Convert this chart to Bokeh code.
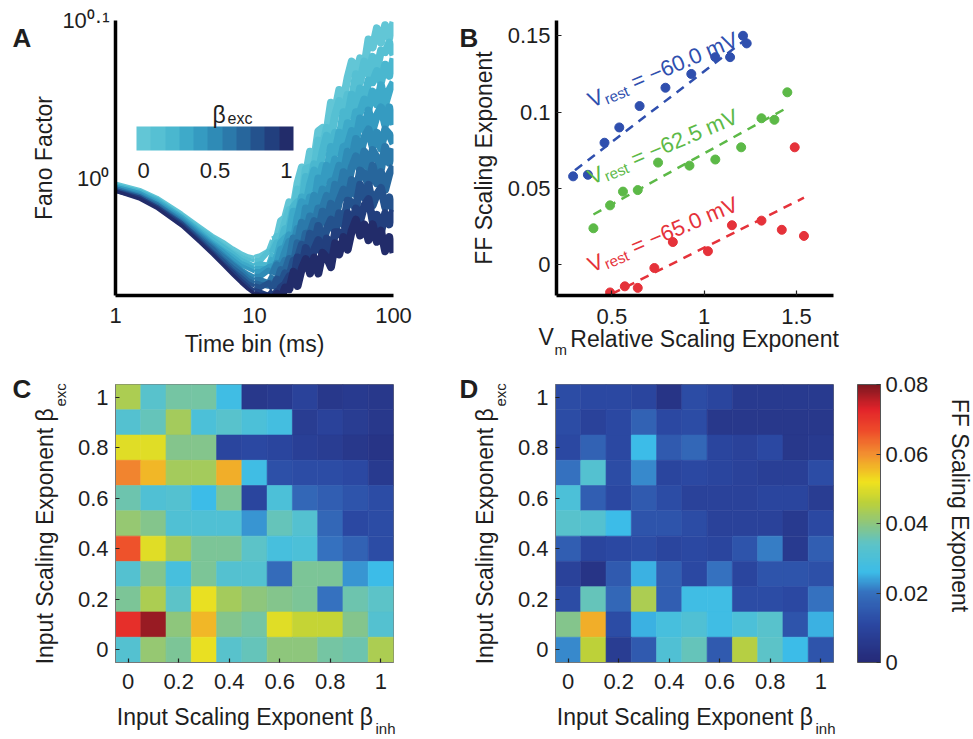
import math
from bokeh.plotting import figure
from bokeh.models import (ColumnDataSource, FixedTicker, LinearColorMapper, ColorBar,
                          Label, Range1d)
from bokeh.layouts import row, column
from bokeh.embed import file_html
from bokeh.resources import INLINE
from bokeh.transform import linear_cmap

FONT = "Liberation Sans"
INK = "#1e1e1e"
NB = "\u00a0"

# ---------------- Panel A data: Fano factor vs time bin ----------------
fano_x = [1, 1.5, 2, 3, 4, 5, 6, 7, 8, 9, 10, 11,
          12.6, 13.5, 14.5, 15.5, 16.6, 17.8, 19.1, 20.4, 21.9, 23.4, 25.1, 26.9, 28.8,
          30.9, 33.1, 35.5, 38.0, 40.7, 43.7, 46.8, 50.1, 53.7, 57.5, 61.7, 66.1, 70.8,
          75.9, 81.3, 87.1, 93.3, 100]
fano_beta = [0.0, 0.1, 0.2, 0.3, 0.4, 0.5, 0.6, 0.7, 0.8, 0.9, 1.0]
# log10(Fano factor), in thousandths, one list per beta_exc
fano_b00 = [-3, -7, -12, -22, -30, -36, -40, -44, -47, -49, -50, -49,
            -46, -39, -38, -27, -25, -15, -18, -3, 7, 2, 17, 12, 30, 32, 30, 48, 43, 56, 50, 64,
            74, 66, 76, 71, 88, 83, 95, 86, 97, 89, 99]
fano_b01 = [-4, -8, -13, -23, -31, -37, -42, -46, -49, -51, -52, -52,
            -46, -46, -37, -37, -28, -20, -22, -7, -12, 6, 7, 6, 24, 20, 32, 26, 40, 49, 42, 53,
            49, 66, 61, 74, 66, 77, 69, 81, 80, 86, 78]
fano_b02 = [-4, -8, -13, -24, -32, -38, -43, -47, -51, -53, -55, -54,
            -55, -47, -41, -41, -32, -31, -18, -15, -17, 1, -4, 9, 3, 17, 27, 19, 29, 25, 42, 39,
            53, 44, 57, 50, 62, 61, 68, 61, 72, 65, 76]
fano_b03 = [-5, -9, -14, -24, -33, -40, -45, -49, -53, -55, -57, -57,
            -57, -50, -51, -41, -38, -36, -21, -25, -12, -18, -4, 5, -2, 8, 3, 20, 16, 29, 22, 35,
            29, 42, 42, 50, 44, 55, 47, 59, 47, 56, 61]
fano_b04 = [-5, -9, -15, -25, -34, -41, -46, -51, -55, -57, -59, -59,
            -56, -55, -55, -45, -44, -36, -40, -25, -15, -23, -12, -17, 0, -4, 8, 0, 12, 7, 20, 21,
            30, 24, 38, 31, 43, 31, 40, 45, 34, 45, 34]
fano_b05 = [-6, -10, -16, -26, -35, -42, -48, -53, -57, -60, -62, -62,
            -58, -60, -54, -55, -47, -40, -43, -32, -36, -19, -23, -11, -19, -7, -14, -2, -1, 8, 3, 17,
            12, 25, 15, 26, 31, 20, 29, 19, 31, 28, 22]
fano_b06 = [-6, -11, -16, -27, -36, -43, -49, -54, -58, -62, -64, -64,
            -66, -61, -55, -58, -52, -52, -38, -41, -28, -36, -24, -31, -19, -19, -11, -18, -4, -10, 4, -5,
            7, 14, 5, 17, 7, 18, 13, 6, 20, 10, 19]
fano_b07 = [-7, -11, -17, -28, -37, -44, -51, -56, -60, -64, -66, -67,
            -68, -65, -66, -58, -59, -51, -55, -41, -47, -35, -35, -27, -34, -21, -28, -16, -26, -14, -7, -14,
            -1, -10, 5, 3, -4, 8, -3, 4, -7, 3, 8]
fano_b08 = [-7, -12, -18, -28, -38, -46, -52, -58, -62, -66, -68, -69,
            -66, -70, -64, -67, -60, -62, -52, -51, -42, -48, -35, -42, -30, -41, -32, -26, -34, -22, -29, -14,
            -15, -19, -4, -12, -4, -17, -10, -6, -18, -12, -21]
fano_b09 = [-8, -12, -18, -29, -39, -47, -54, -59, -64, -68, -71, -72,
            -74, -71, -74, -69, -67, -62, -65, -50, -56, -44, -54, -45, -39, -49, -38, -48, -34, -34, -38, -22,
            -29, -19, -27, -17, -13, -27, -23, -34, -22, -29, -20]
fano_b10 = [-8, -13, -19, -30, -40, -48, -55, -61, -66, -70, -73, -74,
            -74, -76, -73, -76, -69, -70, -59, -68, -57, -51, -60, -50, -60, -47, -50, -56, -41, -48, -37, -45,
            -33, -26, -36, -29, -39, -29, -40, -33, -46, -37, -47]
fano_curves = [fano_b00, fano_b01, fano_b02, fano_b03, fano_b04, fano_b05,
               fano_b06, fano_b07, fano_b08, fano_b09, fano_b10]
fano_colors = ["#62c6d6", "#56c0d3", "#4ab7cf", "#3eaac9", "#359bc1", "#2f8bb6",
               "#2b79aa", "#27669c", "#24528d", "#223f7e", "#222c6a"]
# line segments (index ranges) drawn progressively thicker as the curves get spikier
FANO_SEGMENTS = [(0, 11, 3.5), (10, 14, 5.5), (13, 43, 8)]

# ---------------- Panel B data ----------------
blue_x = [0.29, 0.37, 0.46, 0.54, 0.65, 0.79, 0.93, 1.06, 1.14, 1.21, 1.23]
blue_y = [0.058, 0.059, 0.080, 0.090, 0.104, 0.116, 0.125, 0.136, 0.136, 0.150, 0.145]
green_x = [0.40, 0.49, 0.56, 0.64, 0.75, 0.92, 1.06, 1.20, 1.31, 1.38, 1.45]
green_y = [0.024, 0.039, 0.048, 0.049, 0.067, 0.065, 0.069, 0.077, 0.096, 0.095, 0.113]
red_x = [0.49, 0.57, 0.64, 0.73, 0.83, 1.02, 1.15, 1.31, 1.42, 1.49, 1.54]
red_y = [-0.018, -0.014, -0.015, -0.002, 0.015, 0.009, 0.026, 0.029, 0.023, 0.077, 0.019]
blue_fit_x, blue_fit_y = [0.30, 1.24], [0.062, 0.149]
green_fit_x, green_fit_y = [0.40, 1.45], [0.033, 0.103]
red_fit_x, red_fit_y = [0.50, 1.54], [-0.019, 0.044]
vrest_text = ["= \u221260.0 mV", "= \u221262.5 mV", "= \u221265.0 mV"]
vrest_anchor_x = 0.375
vrest_anchor_y = [0.1072, 0.0568, -0.0006]
B_COLORS = ["#2f4fae", "#5cb947", "#e5323a"]

# ---------------- Panels C, D data (FF scaling exponent) ----------------
beta_vals = [0.0, 0.1, 0.2, 0.3, 0.4, 0.5, 0.6, 0.7, 0.8, 0.9, 1.0]
# rows listed from beta_exc = 1 (top) down to beta_exc = 0; columns beta_inh = 0..1
ffC_rows = [
    [0.044, 0.033, 0.037, 0.037, 0.027, 0.005, 0.006, 0.009, 0.005, 0.006, 0.005],
    [0.032, 0.035, 0.043, 0.030, 0.033, 0.030, 0.028, 0.007, 0.009, 0.007, 0.005],
    [0.050, 0.050, 0.039, 0.039, 0.010, 0.011, 0.010, 0.008, 0.007, 0.005, 0.004],
    [0.061, 0.056, 0.043, 0.043, 0.057, 0.027, 0.013, 0.012, 0.012, 0.011, 0.006],
    [0.036, 0.031, 0.032, 0.026, 0.038, 0.010, 0.030, 0.018, 0.016, 0.014, 0.012],
    [0.041, 0.039, 0.031, 0.031, 0.031, 0.023, 0.035, 0.032, 0.018, 0.011, 0.012],
    [0.066, 0.050, 0.043, 0.038, 0.038, 0.034, 0.029, 0.030, 0.020, 0.017, 0.012],
    [0.032, 0.039, 0.029, 0.038, 0.032, 0.032, 0.019, 0.038, 0.038, 0.023, 0.026],
    [0.038, 0.044, 0.034, 0.051, 0.043, 0.040, 0.039, 0.038, 0.020, 0.036, 0.034],
    [0.071, 0.078, 0.040, 0.056, 0.039, 0.037, 0.050, 0.047, 0.047, 0.039, 0.032],
    [0.032, 0.041, 0.038, 0.051, 0.033, 0.035, 0.040, 0.040, 0.037, 0.036, 0.044],
]
ffD_rows = [
    [0.012, 0.011, 0.011, 0.010, 0.004, 0.012, 0.010, 0.006, 0.006, 0.006, 0.006],
    [0.012, 0.009, 0.011, 0.017, 0.011, 0.012, 0.005, 0.005, 0.005, 0.005, 0.005],
    [0.011, 0.017, 0.011, 0.026, 0.015, 0.018, 0.010, 0.009, 0.011, 0.005, 0.006],
    [0.020, 0.032, 0.012, 0.022, 0.010, 0.011, 0.010, 0.009, 0.008, 0.008, 0.012],
    [0.030, 0.016, 0.011, 0.015, 0.012, 0.009, 0.009, 0.009, 0.010, 0.010, 0.007],
    [0.033, 0.032, 0.026, 0.014, 0.014, 0.012, 0.009, 0.009, 0.009, 0.006, 0.011],
    [0.016, 0.010, 0.011, 0.012, 0.010, 0.011, 0.010, 0.014, 0.021, 0.006, 0.016],
    [0.009, 0.004, 0.015, 0.025, 0.016, 0.011, 0.020, 0.010, 0.014, 0.014, 0.013],
    [0.012, 0.035, 0.018, 0.044, 0.016, 0.027, 0.027, 0.012, 0.012, 0.011, 0.020],
    [0.039, 0.057, 0.012, 0.025, 0.029, 0.031, 0.027, 0.030, 0.033, 0.014, 0.025],
    [0.022, 0.046, 0.007, 0.015, 0.031, 0.035, 0.015, 0.045, 0.034, 0.026, 0.014],
]
heat_ticks = [0.0, 0.2, 0.4, 0.6, 0.8, 1.0]
heat_tick_labels = ["0", "0.2", "0.4", "0.6", "0.8", "1"]
cbar_ticks = [0.0, 0.02, 0.04, 0.06, 0.08]
cbar_tick_labels = ["0", "0.02", "0.04", "0.06", "0.08"]

# jet-like colormap as printed in the figure
anchor_v = [0, 0.011, 0.020, 0.026, 0.034, 0.040, 0.046, 0.052, 0.060, 0.067, 0.073, 0.080]
anchor_c = ["#252a78", "#2b48a2", "#3570be", "#3cbce8", "#5cc3c8", "#8dc67e",
            "#bcd13a", "#f0e21e", "#f29030", "#ee4a2a", "#e2232a", "#7d1820"]


def _hex(c):
    return [int(c[i:i + 2], 16) for i in (1, 3, 5)]


heat_palette = []
for k in range(256):
    v = 0.08 * k / 255
    for j in range(len(anchor_v) - 1):
        if anchor_v[j] <= v <= anchor_v[j + 1] + 1e-12:
            t = (v - anchor_v[j]) / (anchor_v[j + 1] - anchor_v[j])
            a, b = _hex(anchor_c[j]), _hex(anchor_c[j + 1])
            heat_palette.append("#%02x%02x%02x" % tuple(round(a[i] + (b[i] - a[i]) * t) for i in range(3)))
            break


# ---------------- helpers ----------------
def base_fig(**kw):
    p = figure(output_backend="svg", toolbar_location=None, **kw)
    p.grid.visible = False
    p.background_fill_color = "white"
    p.border_fill_color = "white"
    return p


def style_axes(p, line_w, tick_in, standoff_x, standoff_y):
    for ax, so in ((p.xaxis[0], standoff_x), (p.yaxis[0], standoff_y)):
        ax.axis_line_width = line_w
        ax.axis_line_color = "black"
        ax.major_label_text_font = FONT
        ax.major_label_text_font_size = "22px"
        ax.major_label_text_color = INK
        ax.major_label_standoff = so
        ax.axis_label_text_font = FONT
        ax.axis_label_text_font_size = "23px"
        ax.axis_label_text_font_style = "normal"
        ax.axis_label_text_color = INK
        ax.minor_tick_line_color = None
        ax.major_tick_out = 0
        if tick_in:
            ax.major_tick_in = tick_in
            ax.major_tick_line_color = "#222"
            ax.major_tick_line_width = 1.2
        else:
            ax.major_tick_in = 0
            ax.major_tick_line_color = None


def put(p, side, frame, X, Y, text, size, color=INK, angle=0.0, align="left",
        baseline="alphabetic", bold=False):
    """Text whose baseline starts at page pixel (X, Y), anchored at the frame's lower-left data
    corner plus a pixel offset (side-panel labels are drawn about their middle line)."""
    fl, fb = frame
    if side != "center" and baseline == "alphabetic":
        k = 0.35 * size
        X = X - k * math.sin(angle)
        Y = Y - k * math.cos(angle)
    lab = Label(x=p.x_range.start, y=p.y_range.start, x_units="data", y_units="data",
                x_offset=X - fl, y_offset=fb - Y, text=text, angle=angle,
                text_font=FONT, text_font_size=f"{size}px", text_color=color,
                text_align=align, text_baseline=baseline,
                text_font_style="bold" if bold else "normal")
    p.add_layout(lab, side)


FA, FB, FC, FD = (115, 295), (556, 295), (115, 662), (555, 662)

# ---------------- Panel A ----------------
pA = base_fig(width=458, height=360, x_axis_type="log", y_axis_type="log",
              x_range=Range1d(1, 100), y_range=Range1d(10 ** -0.074, 10 ** 0.1),
              min_border_left=115, min_border_right=65, min_border_top=20, min_border_bottom=65)
pA.outline_line_color = None
for vals, col in zip(fano_curves, fano_colors):
    ff = [10 ** (v / 1000) for v in vals]
    for i0, i1, w in FANO_SEGMENTS:
        pA.line(fano_x[i0:i1], ff[i0:i1], line_width=w, color=col, line_join="round")
style_axes(pA, 3.5, 0, 12, 6)
pA.xaxis.ticker = FixedTicker(ticks=[1, 10, 100])
pA.xaxis.major_label_overrides = {1: "1", 10: "10", 100: "100"}
pA.yaxis.ticker = FixedTicker(ticks=[1, 10 ** 0.1])
pA.yaxis.major_label_overrides = {1: "10\u2070", 10 ** 0.1: "10\u2070\u00b7\u00b9"}
pA.xaxis.axis_label = "Time bin (ms)"
pA.yaxis.axis_label = "Fano Factor"
pA.xaxis.axis_label_standoff = 5
pA.yaxis.axis_label_standoff = 2

fano_mapper = LinearColorMapper(palette=fano_colors, low=-0.05, high=1.05)
cbA = ColorBar(color_mapper=fano_mapper, orientation="horizontal", location=(21, 115),
               width=157, height=24, padding=0, margin=0,
               ticker=FixedTicker(ticks=[0, 0.5, 1]),
               major_label_overrides={0: "0", 0.5: "0.5", 1: "1"},
               major_label_text_font=FONT, major_label_text_font_size="22px",
               major_label_text_color=INK, major_tick_line_color=None, bar_line_color=None,
               background_fill_alpha=0, border_line_color=None, label_standoff=12)
pA.add_layout(cbA)
put(pA, "center", FA, 212, 114, "\u03b2", 23)
put(pA, "center", FA, 227, 118, "exc", 16)
put(pA, "right", FA, 12, 47, "A", 26, bold=True)

# ---------------- Panel B ----------------
pB = base_fig(width=513, height=360, x_range=Range1d(0.2, 1.7), y_range=Range1d(-0.02, 0.16),
              min_border_left=98, min_border_right=138, min_border_top=20, min_border_bottom=65)
pB.outline_line_color = None
for fx, fy, col in ((blue_fit_x, blue_fit_y, B_COLORS[0]), (green_fit_x, green_fit_y, B_COLORS[1]),
                    (red_fit_x, red_fit_y, B_COLORS[2])):
    pB.line(fx, fy, line_width=2.5, line_dash="9 7", color=col)
for xs, ys, col in ((blue_x, blue_y, B_COLORS[0]), (green_x, green_y, B_COLORS[1]),
                    (red_x, red_y, B_COLORS[2])):
    pB.scatter(xs, ys, size=9, color=col)
style_axes(pB, 3.5, 5, 13, 6)
pB.xaxis.ticker = FixedTicker(ticks=[0.5, 1, 1.5])
pB.xaxis.major_label_overrides = {0.5: "0.5", 1: "1", 1.5: "1.5"}
pB.yaxis.ticker = FixedTicker(ticks=[0, 0.05, 0.1, 0.15])
pB.yaxis.major_label_overrides = {0: "0", 0.05: "0.05", 0.1: "0.1", 0.15: "0.15"}
pB.yaxis.axis_label = "FF Scaling Exponent"
pB.yaxis.axis_label_standoff = 8
pB.xaxis.axis_label = NB * 3 + "Relative Scaling Exponent"
pB.xaxis.axis_label_standoff = -1

ang = math.radians(23)
ca, sa = math.cos(ang), math.sin(ang)
for y0, txt, col in zip(vrest_anchor_y, vrest_text, B_COLORS):
    for t, size, along, down in (("V", 22, 0, 0), ("rest", 15, 15.5, 5), (txt, 22, 47, 0)):
        pB.add_layout(Label(x=vrest_anchor_x, y=y0, text=t, angle=ang,
                            x_offset=along * ca + down * sa, y_offset=along * sa - down * ca,
                            text_font=FONT, text_font_size=f"{size}px", text_color=col,
                            text_align="left", text_baseline="alphabetic"))
put(pB, "right", FB, 538, 345, "V", 23)
put(pB, "right", FB, 554, 354, "m", 15)
put(pB, "right", FB, 459, 47, "B", 26, bold=True)

# ---------------- Panels C, D ----------------
heat_mapper = LinearColorMapper(palette=heat_palette, low=0, high=0.08)


def heat_panel(rows, width, left, right, frame, letter):
    p = base_fig(width=width, height=376, x_range=Range1d(-0.05, 1.05), y_range=Range1d(-0.05, 1.05),
                 min_border_left=left, min_border_right=right, min_border_top=24, min_border_bottom=74)
    p.outline_line_color = "#777"
    xs, ys, vs = [], [], []
    n = len(beta_vals)
    for r, vals in enumerate(rows):
        for c, v in enumerate(vals):
            xs.append(beta_vals[c])
            ys.append(beta_vals[n - 1 - r])
            vs.append(v)
    src = ColumnDataSource(dict(x=xs, y=ys, v=vs))
    cmap = linear_cmap("v", heat_palette, 0, 0.08)
    p.rect("x", "y", width=0.1, height=0.1, source=src, fill_color=cmap, line_color=cmap,
           line_width=0.6)
    style_axes(p, 1, 4, 11, 7)
    for ax in (p.xaxis[0], p.yaxis[0]):
        ax.axis_line_color = "#777"
        ax.ticker = FixedTicker(ticks=heat_ticks)
        ax.major_label_overrides = dict(zip(heat_ticks, heat_tick_labels))
    p.yaxis.axis_label = "Input Scaling Exponent \u03b2" + NB * 4
    p.yaxis.axis_label_standoff = 17
    p.xaxis.axis_label = "Input Scaling Exponent \u03b2" + NB * 3
    p.xaxis.axis_label_standoff = 12
    fl, fb = frame
    put(p, "right", frame, fl - 50, 406, "exc", 15, angle=math.pi / 2)
    put(p, "right", frame, fl + 260, 733, "inh", 15)
    put(p, "right", frame, letter[1], 398, letter[0], 26, bold=True)
    return p


pC = heat_panel(ffC_rows, 458, 115, 65, FC, ("C", 12))
pD = heat_panel(ffD_rows, 513, 97, 138, FD, ("D", 459))

cbD = ColorBar(color_mapper=heat_mapper, orientation="vertical", location=(302, 0),
               width=23, height=278, padding=0, margin=0,
               ticker=FixedTicker(ticks=cbar_ticks),
               major_label_overrides=dict(zip(cbar_ticks, cbar_tick_labels)),
               major_label_text_font=FONT, major_label_text_font_size="22px",
               major_label_text_color=INK, major_tick_line_color="#333", major_tick_in=4,
               bar_line_color="#555", background_fill_alpha=0, border_line_color=None,
               label_standoff=5)
pD.add_layout(cbD)
put(pD, "right", FD, 959, 505, "FF Scaling Exponent", 23, angle=-math.pi / 2, align="center",
    baseline="middle")

layout = column(row(pA, pB), row(pC, pD))
open("out.html", "w").write(file_html(layout, INLINE))
